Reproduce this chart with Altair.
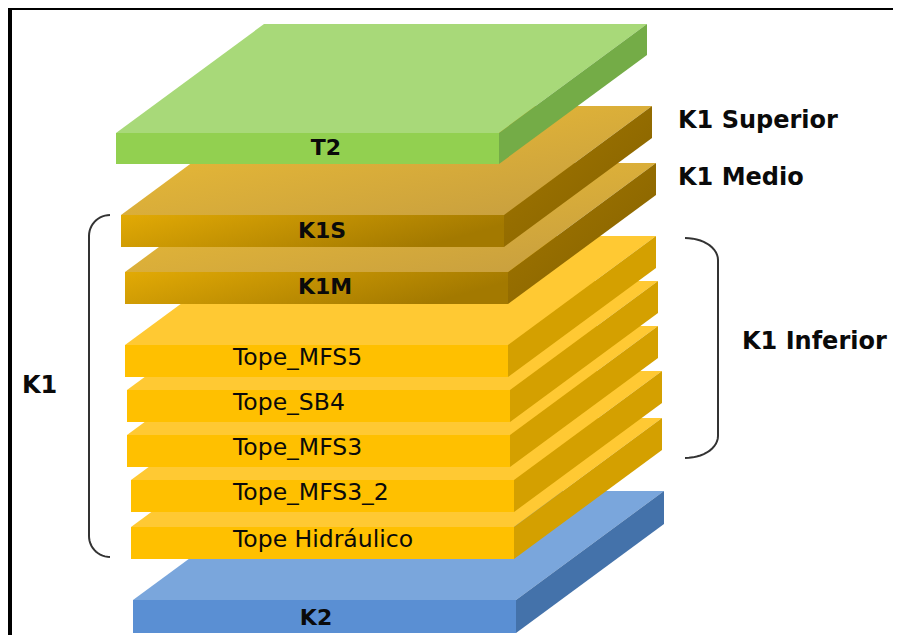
import altair as alt
import numpy as np
import pandas as pd

# ---- layer (slab) data, listed from bottom to top -------------------------
names = ["K2", "Tope Hidráulico", "Tope_MFS3_2", "Tope_MFS3", "Tope_SB4",
         "Tope_MFS5", "K1M", "K1S", "T2"]
unit = ["K2", "K1I", "K1I", "K1I", "K1I", "K1I", "K1U", "K1U", "T2"]
front_top = [600, 527, 480, 435, 390, 345, 272, 215, 133]
thickness = [33, 32, 32, 32, 32, 32, 32, 32, 31]
left_edge = [133, 131, 131, 127, 127, 125, 125, 121, 116]
slab_width = 383
depth_dx = 148
depth_dy = 109

# labels on the front faces
label_x = [316, 233, 233, 233, 233, 233, 325, 322, 326]
label_off = [18, 13, 13, 13, 13, 13, 15, 16, 15]
label_bold = [True, False, False, False, False, False, True, True, True]

# labels beside the block
side_text = ["K1 Superior", "K1 Medio", "K1 Inferior", "K1"]
side_x = [678, 678, 742, 22]
side_y = [121, 178, 342, 386]

# brackets: x of vertical stroke, x of ends, y top, y bottom, radius y
br_xv = [89, 718]
br_xe = [110, 685]
br_top = [215, 238]
br_bot = [557, 458]
br_ry = [21, 22]


def grad(c0, c1, x2=1, y2=1):
    return {"gradient": "linear", "x1": 0, "y1": 0, "x2": x2, "y2": y2,
            "stops": [{"offset": 0, "color": c0}, {"offset": 1, "color": c1}]}


palette = {
    "T2": dict(top="#A8D979", front="#92D050", side="#74AC47"),
    "K1U": dict(top=grad("#F0C033", "#C49C40"),
                front=grad("#E2AA05", "#A37900", 1, 0.3),
                side=grad("#A47800", "#836000", 1, 1)),
    "K1I": dict(top="#FFC933", front="#FFC000", side="#D4A000"),
    "K2": dict(top="#7AA6DC", front="#5A8FD3", side="#4472AA"),
}

xs = alt.Scale(domain=[8, 893], nice=False, zero=False)
ys = alt.Scale(domain=[8, 635], reverse=True, nice=False, zero=False)
X = alt.X("x:Q", scale=xs, axis=None)
Y = alt.Y("y:Q", scale=ys, axis=None, stack=None)

layers = []
for i, name in enumerate(names):
    x0, yt, th = left_edge[i], front_top[i], thickness[i]
    pal = palette[unit[i]]
    top_df = pd.DataFrame({
        "x": [x0, x0 + depth_dx, x0 + slab_width, x0 + slab_width + depth_dx],
        "y": [yt, yt, yt, yt - depth_dy],
        "y2": [yt, yt - depth_dy, yt - depth_dy, yt - depth_dy]})
    side_df = pd.DataFrame({
        "x": [x0 + slab_width, x0 + slab_width + depth_dx],
        "y": [yt, yt - depth_dy],
        "y2": [yt + th, yt + th - depth_dy]})
    front_df = pd.DataFrame({"x": [x0], "x2": [x0 + slab_width],
                             "y": [yt], "y2": [yt + th]})
    layers.append(alt.Chart(top_df).mark_area(color=pal["top"], interpolate="linear")
                  .encode(x=X, y=Y, y2="y2:Q"))
    layers.append(alt.Chart(side_df).mark_area(color=pal["side"], interpolate="linear")
                  .encode(x=X, y=Y, y2="y2:Q"))
    layers.append(alt.Chart(front_df).mark_rect(color=pal["front"])
                  .encode(x=X, x2="x2:Q", y=Y, y2="y2:Q"))

lab = pd.DataFrame({"text": names, "x": label_x,
                    "y": [t + o for t, o in zip(front_top, label_off)],
                    "bold": label_bold})
layers.append(alt.Chart(lab[lab.bold]).mark_text(
    font="DejaVu Sans", fontWeight="bold", fontSize=22, color="#0a0a0a",
    align="center", baseline="middle").encode(x=X, y=Y, text="text:N"))
layers.append(alt.Chart(lab[~lab.bold]).mark_text(
    font="DejaVu Sans", fontSize=23.5, color="#0a0a0a",
    align="left", baseline="middle").encode(x=X, y=Y, text="text:N"))

side = pd.DataFrame({"text": side_text, "x": side_x, "y": side_y})
layers.append(alt.Chart(side).mark_text(
    font="DejaVu Sans", fontWeight="bold", fontSize=24, color="#0a0a0a",
    align="left", baseline="middle").encode(x=X, y=Y, text="text:N"))

# bracket paths
rows = []
for b in range(2):
    xv, xe, yt, yb, ry = br_xv[b], br_xe[b], br_top[b], br_bot[b], br_ry[b]
    rx = xe - xv
    k = 0
    t = np.linspace(0, np.pi / 2, 14)
    for a in t:  # top corner: from end point to vertical
        rows.append({"b": b, "k": k, "x": xe - rx * np.sin(a), "y": yt + ry - ry * np.cos(a)}); k += 1
    for a in t:  # bottom corner
        rows.append({"b": b, "k": k, "x": xv + rx * (1 - np.cos(a)), "y": yb - ry + ry * np.sin(a)}); k += 1
br = pd.DataFrame(rows)
layers.append(alt.Chart(br).mark_line(color="#333333", strokeWidth=2, interpolate="linear")
              .encode(x=X, y=alt.Y("y:Q", scale=ys, axis=None), detail="b:N", order="k:Q"))

# picture frame
layers.append(alt.Chart(pd.DataFrame({"a": [0]})).mark_rule(color="black", strokeWidth=4)
              .encode(x=alt.value(2), y=alt.value(-2), y2=alt.value(640)))
layers.append(alt.Chart(pd.DataFrame({"a": [0]})).mark_rule(color="black", strokeWidth=4)
              .encode(y=alt.value(0), x=alt.value(0), x2=alt.value(900)))

chart = alt.layer(*layers).properties(
    width=885, height=627, padding=0,
    autosize=alt.AutoSizeParams(type="none"),
    background="white",
).configure_view(stroke=None)

chart.save("out.html", embed_options={"renderer": "svg", "actions": False})
